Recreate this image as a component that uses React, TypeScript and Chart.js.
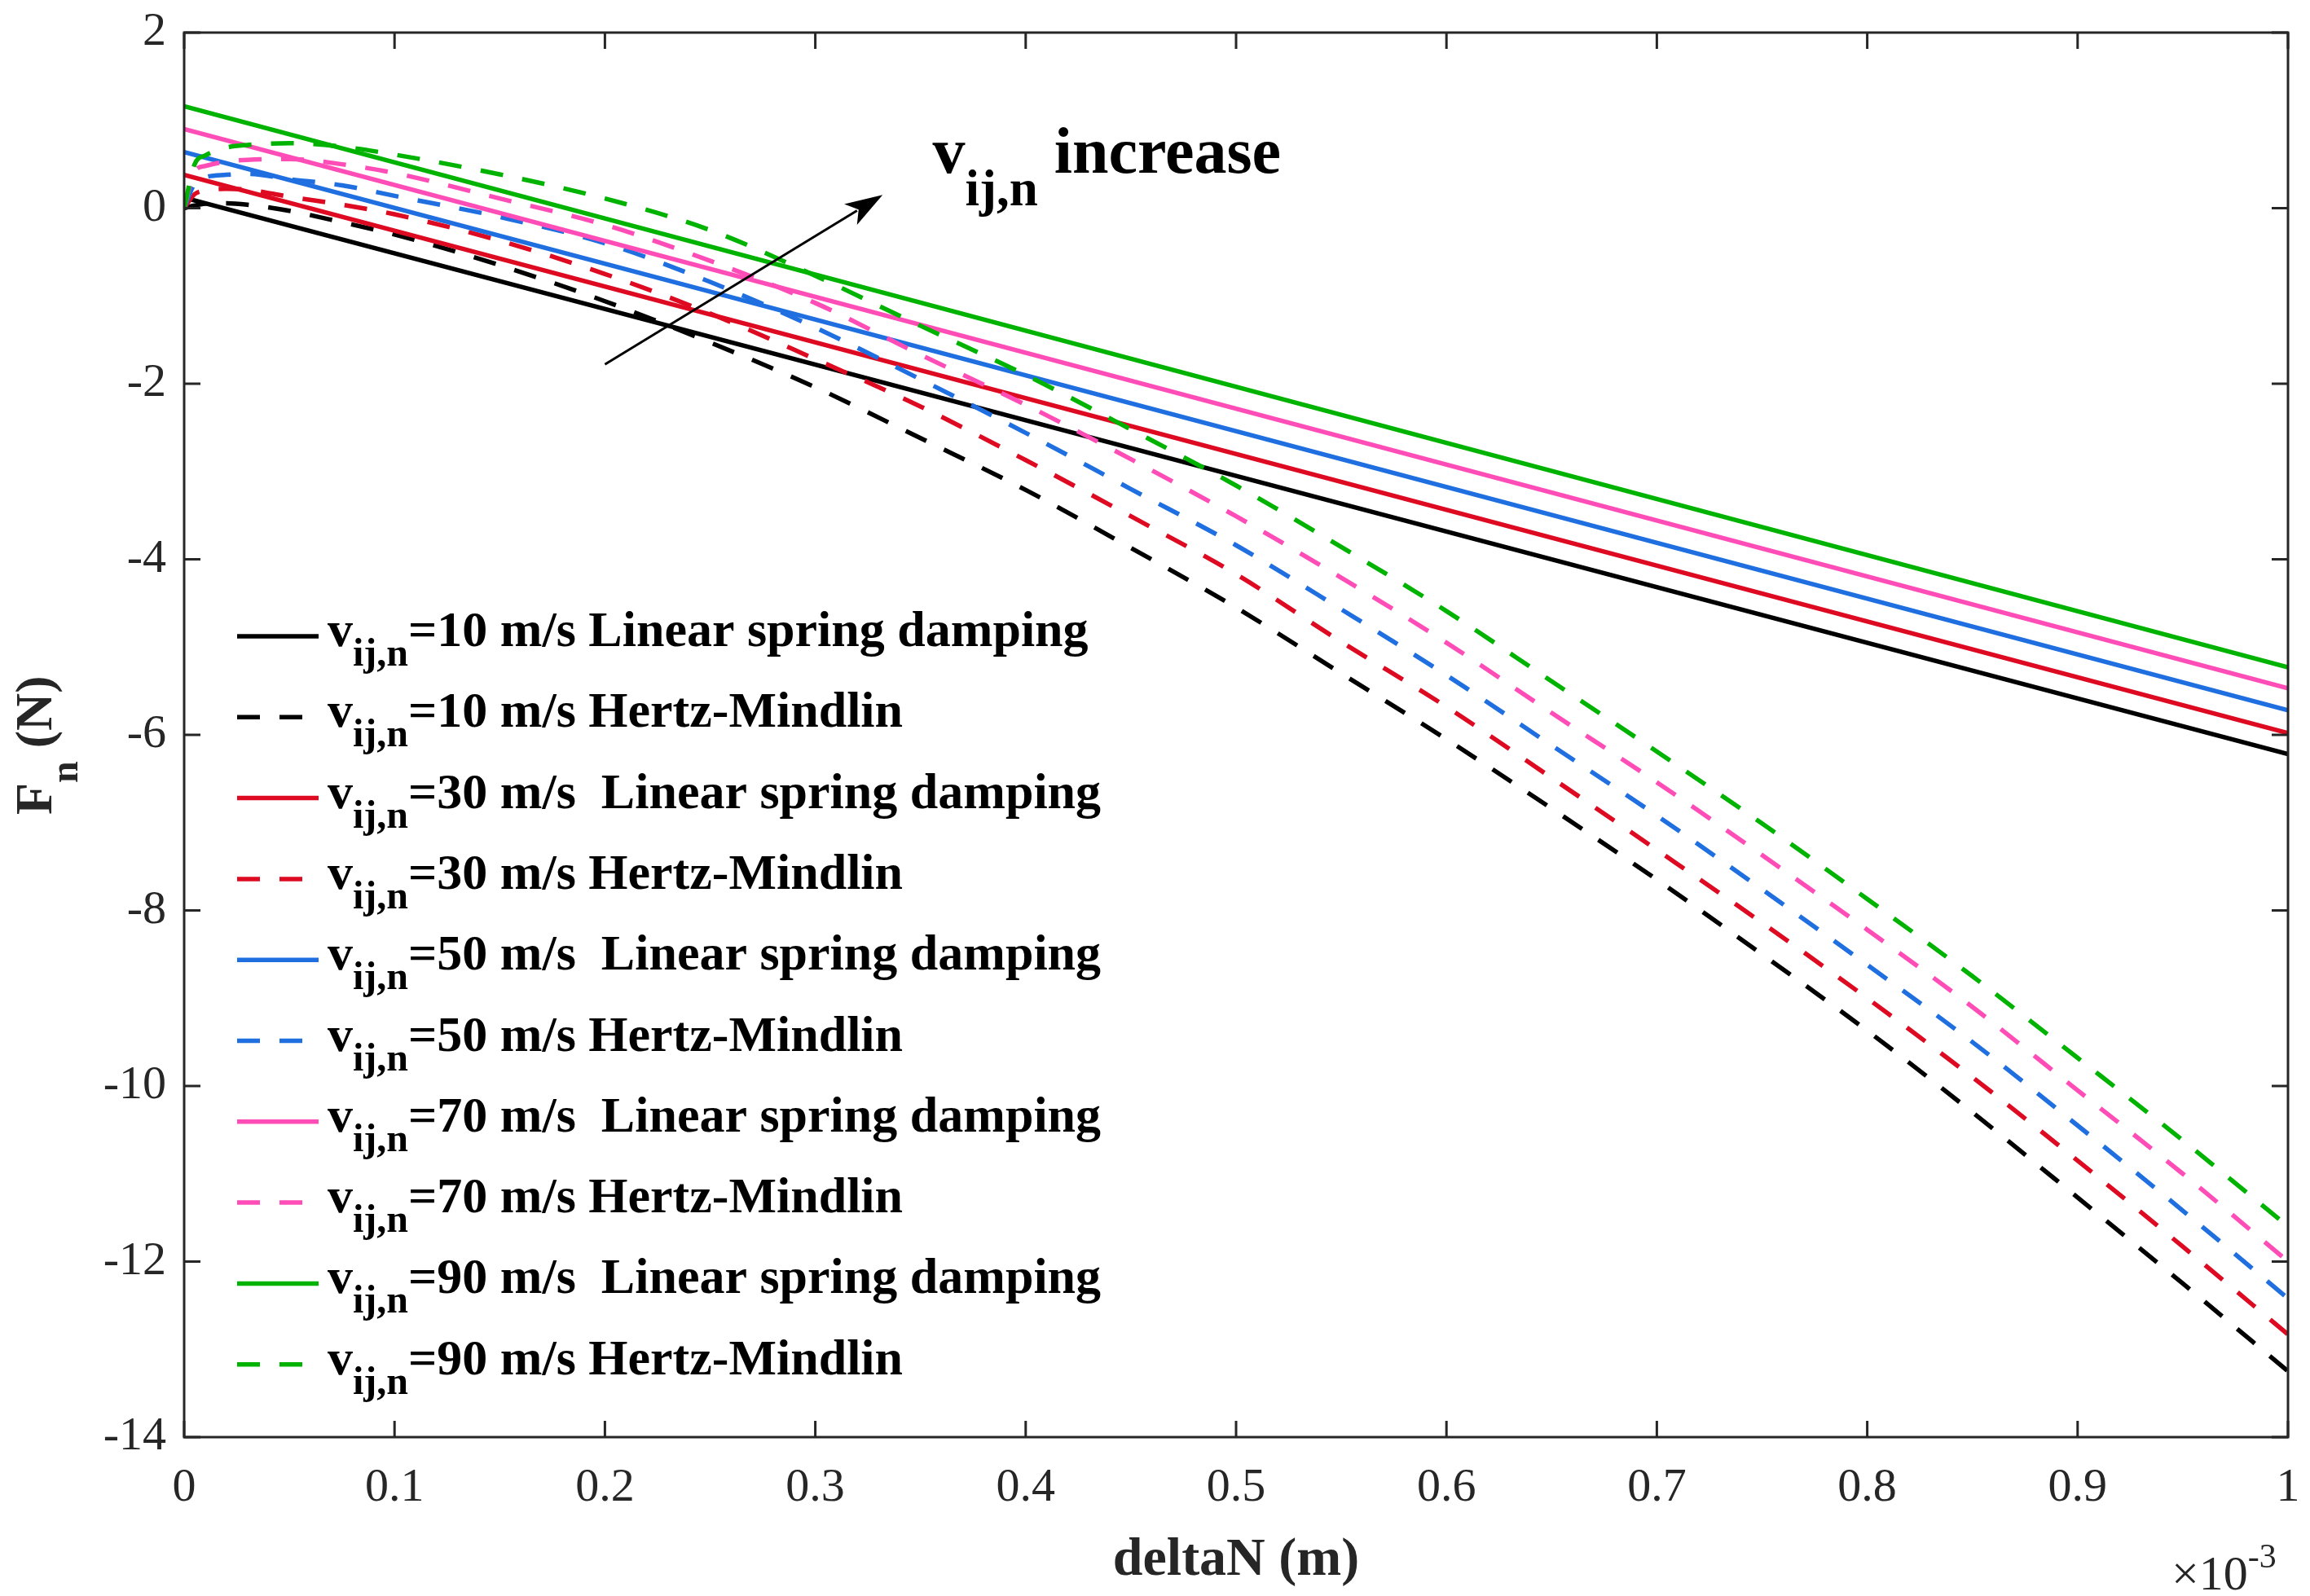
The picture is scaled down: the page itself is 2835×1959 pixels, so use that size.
import { useEffect, useRef } from "react";
import { Chart, registerables, type Plugin, type ChartDataset } from "chart.js";

Chart.register(...registerables);

// deltaN axis values, in units of 1e-3 m
const deltaN = [
  0, 0.005, 0.01, 0.02, 0.03, 0.05, 0.075, 0.1, 0.15, 0.2, 0.25, 0.3, 0.35,
  0.4, 0.45, 0.5, 0.55, 0.6, 0.65, 0.7, 0.75, 0.8, 0.85, 0.9, 0.95, 1.0,
];
const linearX = [0, 1];

const speeds = ["10", "30", "50", "70", "90"];

// Linear spring damping (straight lines)
const linear10 = [0.12, -6.22];
const linear30 = [0.38, -5.98];
const linear50 = [0.64, -5.72];
const linear70 = [0.9, -5.47];
const linear90 = [1.16, -5.23];

// Hertz-Mindlin
const hertz10 = [
  0, 0.03, 0.05, 0.056, 0.04, -0.03, -0.16, -0.3, -0.65, -1.06, -1.53, -2.04,
  -2.62, -3.21, -3.87, -4.55, -5.3, -6.05, -6.84, -7.65, -8.5, -9.37, -10.3,
  -11.27, -12.25, -13.25,
];
const hertz30 = [
  0, 0.16, 0.2, 0.22, 0.21, 0.13, 0.04, -0.07, -0.37, -0.75, -1.2, -1.72,
  -2.26, -2.87, -3.51, -4.17, -4.94, -5.68, -6.49, -7.31, -8.14, -9.0, -9.9,
  -10.85, -11.83, -12.83,
];
const hertz50 = [
  0, 0.28, 0.35, 0.38, 0.39, 0.33, 0.26, 0.14, -0.1, -0.4, -0.84, -1.36,
  -1.95, -2.56, -3.2, -3.84, -4.57, -5.32, -6.12, -6.92, -7.76, -8.62, -9.5,
  -10.45, -11.42, -12.42,
];
const hertz70 = [
  0, 0.42, 0.48, 0.53, 0.55, 0.56, 0.5, 0.4, 0.11, -0.19, -0.6, -1.08, -1.67,
  -2.24, -2.86, -3.51, -4.21, -4.95, -5.75, -6.54, -7.37, -8.22, -9.1, -10.05,
  -11.0, -12.0,
];
const hertz90 = [
  0, 0.5, 0.6, 0.69, 0.72, 0.74, 0.7, 0.61, 0.385, 0.11, -0.25, -0.77, -1.34,
  -1.9, -2.52, -3.16, -3.86, -4.59, -5.39, -6.19, -7.01, -7.87, -8.75, -9.68,
  -10.62, -11.6,
];

const linearSeries = [linear10, linear30, linear50, linear70, linear90];
const hertzSeries = [hertz10, hertz30, hertz50, hertz70, hertz90];
const colors = ["#000000", "#dd0a22", "#1f6fe0", "#ff4db8", "#00b300"];

const FONT = '"Liberation Serif", "Times New Roman", serif';
const AXIS = "#262626";
const DASH = [28, 24];
const LINE_W = 5.5;

// annotation arrow, in data units
const arrowFrom = { x: 0.2, y: -1.78 };
const arrowTo = { x: 0.332, y: 0.15 };
const arrowLabel = { x: 0.3557, y: 0.4 };

const zip = (xs: number[], ys: number[]) => xs.map((x, i) => ({ x, y: ys[i] }));

type Run = { text: string; size: number; dy?: number; bold?: boolean };

function drawRuns(ctx: CanvasRenderingContext2D, runs: Run[], x: number, y: number) {
  let cx = x;
  for (const r of runs) {
    ctx.font = `${r.bold ? "bold " : ""}${r.size}px ${FONT}`;
    ctx.fillText(r.text, cx, y + (r.dy ?? 0));
    cx += ctx.measureText(r.text).width;
  }
  return cx;
}

// keep the plot box where the layout padding puts it
const noScalePadding = (s: any) => {
  s.paddingTop = 0;
  s.paddingBottom = 0;
  s.paddingLeft = 0;
  s.paddingRight = 0;
};

const overlay: Plugin<"line"> = {
  id: "overlay",
  afterDraw(chart) {
    const { ctx, chartArea: a, scales } = chart;
    const sx = scales.x;
    const sy = scales.y;
    ctx.save();

    // axes box with inward ticks
    ctx.strokeStyle = AXIS;
    ctx.lineWidth = 3;
    ctx.setLineDash([]);
    ctx.strokeRect(a.left, a.top, a.right - a.left, a.bottom - a.top);
    ctx.beginPath();
    sx.ticks.forEach((t) => {
      const px = sx.getPixelForValue(t.value);
      ctx.moveTo(px, a.bottom);
      ctx.lineTo(px, a.bottom - 20);
      ctx.moveTo(px, a.top);
      ctx.lineTo(px, a.top + 20);
    });
    sy.ticks.forEach((t) => {
      const py = sy.getPixelForValue(t.value);
      ctx.moveTo(a.left, py);
      ctx.lineTo(a.left + 20, py);
      ctx.moveTo(a.right, py);
      ctx.lineTo(a.right - 20, py);
    });
    ctx.stroke();

    ctx.textBaseline = "alphabetic";
    ctx.textAlign = "left";

    // x title
    ctx.fillStyle = AXIS;
    ctx.font = `bold 66px ${FONT}`;
    ctx.textAlign = "center";
    ctx.fillText("deltaN (m)", (a.left + a.right) / 2, chart.height - 26);
    ctx.textAlign = "left";

    // exponent
    drawRuns(ctx, [
      { text: "\u00d710", size: 60 },
      { text: "-3", size: 42, dy: -27 },
    ], a.right - 143, chart.height - 8);

    // y title
    ctx.save();
    ctx.translate(63, a.top + 960);
    ctx.rotate(-Math.PI / 2);
    drawRuns(ctx, [
      { text: "F", size: 64, bold: true },
      { text: "n", size: 48, dy: 32, bold: true },
      { text: " (N)", size: 64, bold: true },
    ], 0, 0);
    ctx.restore();

    // legend
    ctx.fillStyle = "#000";
    for (let k = 0; k < 10; k++) {
      const s = Math.floor(k / 2);
      const dashed = k % 2 === 1;
      const ly = a.top + 741 + k * 99.3;
      ctx.beginPath();
      ctx.strokeStyle = colors[s];
      ctx.lineWidth = LINE_W;
      ctx.setLineDash(dashed ? DASH : []);
      ctx.moveTo(a.left + 65, ly);
      ctx.lineTo(a.left + 165, ly);
      ctx.stroke();
      ctx.setLineDash([]);
      const rest = dashed
        ? `=${speeds[s]} m/s Hertz-Mindlin`
        : `=${speeds[s]} m/s${s === 0 ? " " : "  "}Linear spring damping`;
      drawRuns(ctx, [
        { text: "v", size: 62, bold: true },
        { text: "ij,n", size: 48, dy: 24, bold: true },
        { text: rest, size: 62, bold: true },
      ], a.left + 176, ly + 12);
    }

    // arrow annotation
    const x0 = sx.getPixelForValue(arrowFrom.x);
    const y0 = sy.getPixelForValue(arrowFrom.y);
    const x1 = sx.getPixelForValue(arrowTo.x);
    const y1 = sy.getPixelForValue(arrowTo.y);
    const ang = Math.atan2(y1 - y0, x1 - x0);
    const len = 46;
    const hw = 15;
    ctx.strokeStyle = "#000";
    ctx.lineWidth = 3;
    ctx.beginPath();
    ctx.moveTo(x0, y0);
    ctx.lineTo(x1 - Math.cos(ang) * len * 0.8, y1 - Math.sin(ang) * len * 0.8);
    ctx.stroke();
    const bx = x1 - Math.cos(ang) * len;
    const by = y1 - Math.sin(ang) * len;
    ctx.beginPath();
    ctx.moveTo(x1, y1);
    ctx.lineTo(bx + Math.sin(ang) * hw, by - Math.cos(ang) * hw);
    ctx.lineTo(x1 - Math.cos(ang) * len * 0.75, y1 - Math.sin(ang) * len * 0.75);
    ctx.lineTo(bx - Math.sin(ang) * hw, by + Math.cos(ang) * hw);
    ctx.closePath();
    ctx.fillStyle = "#000";
    ctx.fill();

    drawRuns(ctx, [
      { text: "v", size: 80, bold: true },
      { text: "ij,n", size: 63, dy: 40, bold: true },
      { text: " increase", size: 80, bold: true },
    ], sx.getPixelForValue(arrowLabel.x), sy.getPixelForValue(arrowLabel.y));

    ctx.restore();
  },
};

const App: React.FC = () => {
  const canvasRef = useRef<HTMLCanvasElement | null>(null);
  const chartRef = useRef<Chart<"line"> | null>(null);

  useEffect(() => {
    if (!canvasRef.current) return;
    if (chartRef.current) chartRef.current.destroy();

    const datasets: ChartDataset<"line", { x: number; y: number }[]>[] = [];
    speeds.forEach((_, i) => {
      datasets.push({
        data: zip(linearX, linearSeries[i]),
        borderColor: colors[i],
        borderWidth: LINE_W,
        pointRadius: 0,
        order: 20 - 2 * i,
      });
      datasets.push({
        data: zip(deltaN, hertzSeries[i]),
        borderColor: colors[i],
        borderWidth: LINE_W,
        borderDash: DASH,
        pointRadius: 0,
        cubicInterpolationMode: "monotone",
        order: 19 - 2 * i,
      });
    });

    const tickFont = { family: FONT, size: 58 };

    chartRef.current = new Chart(canvasRef.current, {
      type: "line",
      data: { datasets },
      options: {
        animation: false,
        responsive: true,
        maintainAspectRatio: false,
        layout: { padding: { left: 0, right: 27, top: 40, bottom: 0 } },
        plugins: {
          legend: { display: false },
          tooltip: { enabled: false },
        },
        elements: { line: { borderCapStyle: "butt", borderJoinStyle: "round" } },
        scales: {
          x: {
            type: "linear",
            min: 0,
            max: 1,
            afterFit: (s) => {
              s.height = 195;
              noScalePadding(s);
            },
            grid: { display: false, drawTicks: false },
            border: { display: false },
            ticks: {
              stepSize: 0.1,
              padding: 28,
              maxRotation: 0,
              autoSkip: false,
              color: AXIS,
              font: tickFont,
              callback: (v) => String(Number(Number(v).toFixed(1))),
            },
          },
          y: {
            type: "linear",
            min: -14,
            max: 2,
            afterFit: (s) => {
              s.width = 226;
              noScalePadding(s);
            },
            grid: { display: false, drawTicks: false },
            border: { display: false },
            ticks: {
              stepSize: 2,
              padding: 22,
              color: AXIS,
              font: tickFont,
              callback: (v) => String(v),
            },
          },
        },
      },
      plugins: [overlay],
    });

    return () => {
      if (chartRef.current) {
        chartRef.current.destroy();
        chartRef.current = null;
      }
    };
  }, []);

  return (
    <div style={{ position: "fixed", left: 0, top: 0, width: "100vw", height: "100vh", background: "#fff" }}>
      <canvas ref={canvasRef} />
    </div>
  );
};

export default App;
